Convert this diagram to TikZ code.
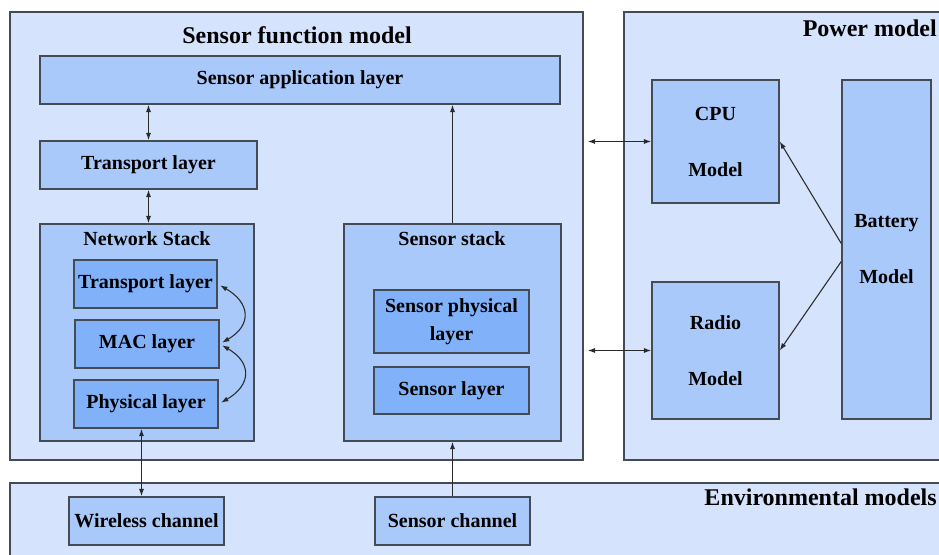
\documentclass[tikz,border=0pt]{standalone}
\usepackage{fontspec}
\setmainfont{Liberation Serif}
\usetikzlibrary{arrows.meta,calc}

\definecolor{outerfill}{HTML}{D5E3FC}
\definecolor{midfill}{HTML}{A9C9FB}
\definecolor{innerfill}{HTML}{80B1F9}
\definecolor{edgegray}{HTML}{454B55}
\definecolor{linegray}{HTML}{2A2A2A}

% box given by its corners (x1,y1)-(x2,y2) in pixel units
\newcommand\pbox[7]{%
  \node[#6, minimum width={(#4-#2)*0.75pt}, minimum height={(#5-#3)*0.75pt}]
    (#1) at ({(#2+#4)/2},{(#3+#5)/2}) {#7};}

\begin{document}
\begin{tikzpicture}[x=0.75pt,y=-0.75pt,
  box/.style={draw=edgegray, line width=1.1pt, inner sep=0pt, align=center,
    font=\fontsize{15}{18}\selectfont\bfseries},
  outerbox/.style={box, fill=outerfill},
  midbox/.style={box, fill=midfill},
  innerbox/.style={box, fill=innerfill},
  title/.style={inner sep=0pt, font=\fontsize{18}{21}\selectfont\bfseries},
  subtitle/.style={inner sep=0pt, font=\fontsize{15}{18}\selectfont\bfseries},
  conn/.style={draw=linegray, line width=0.8pt},
  >={Latex[length=5.5pt,width=3.8pt]}
]
\clip (0,0) rectangle (939,555);
\fill[white] (0,0) rectangle (939,555);

% ---- sensor function model ----
\pbox{sfm}{10}{12}{583}{460}{outerbox}{}
\node[title] (sfmT) at (297,35) {Sensor function model};
\pbox{app}{40}{56}{560}{104}{midbox}{Sensor application layer}
\pbox{tp}{40}{141}{257}{189}{midbox}{Transport layer}

\pbox{ns}{40}{224}{254}{441}{midbox}{}
\node[subtitle] (nsT) at (147,239) {Network Stack};
\pbox{ntl}{74}{260}{217}{308}{innerbox}{Transport layer}
\pbox{mac}{75}{320}{219}{368}{innerbox}{MAC layer}
\pbox{phy}{74}{380}{218}{428}{innerbox}{Physical layer}

\pbox{ss}{344}{224}{561}{441}{midbox}{}
\node[subtitle] (ssT) at (452,239) {Sensor stack};
\pbox{spl}{374}{290}{529}{353}{innerbox}{Sensor physical\\[3pt]layer}
\pbox{sl}{374}{367}{529}{414}{innerbox}{Sensor layer}

% ---- power model ----
\pbox{pm}{624}{12}{990}{460}{outerbox}{}
\node[title, anchor=east] (pmT) at (937,28) {Power model};
\pbox{cpu}{652}{80}{779}{203}{midbox}{CPU\\[24pt]Model}
\pbox{radio}{652}{282}{779}{419}{midbox}{Radio\\[24pt]Model}
\pbox{bat}{842}{80}{931}{419}{midbox}{Battery\\[24pt]Model}

% ---- environmental models ----
\pbox{env}{10}{483}{990}{600}{outerbox}{}
\node[title, anchor=east] (envT) at (937,497) {Environmental models};
\pbox{wc}{69}{497}{224}{545}{midbox}{Wireless channel}
\pbox{sc}{375}{497}{530}{545}{midbox}{Sensor channel}

% ---- connectors ----
\coordinate (appTp) at (app.south -| tp.north);
\draw[conn,<->] (appTp) -- (tp.north);
\draw[conn,<->] (tp.south) -- (tp.south |- ns.north);
\draw[conn,->] (ss.north) -- (ss.north |- app.south);

\draw[conn,<->,shorten <=2pt,shorten >=2pt] (ntl.east) to[out=-30,in=30,looseness=1.6] (mac.east);
\draw[conn,<->,shorten <=2pt,shorten >=2pt] (mac.east) to[out=-30,in=30,looseness=1.6] (phy.east);

\coordinate (phyOut) at ($(phy.south)+(-4.5,0)$);
\draw[conn,<->] (phyOut) -- (phyOut |- wc.north);
\draw[conn,->] (sc.north) -- (sc.north |- ss.south);

\draw[conn,<->,shorten <=3pt] (sfm.east |- cpu.west) -- (cpu.west);
\draw[conn,<->,shorten <=3pt] (sfm.east |- radio.west) -- (radio.west);

\coordinate (batUp) at ($(bat.west)+(0,-6)$);
\coordinate (batDn) at ($(bat.west)+(0,12)$);
\draw[conn,->] (batUp) -- (cpu.east);
\draw[conn,->] (batDn) -- (radio.east);
\end{tikzpicture}
\end{document}
